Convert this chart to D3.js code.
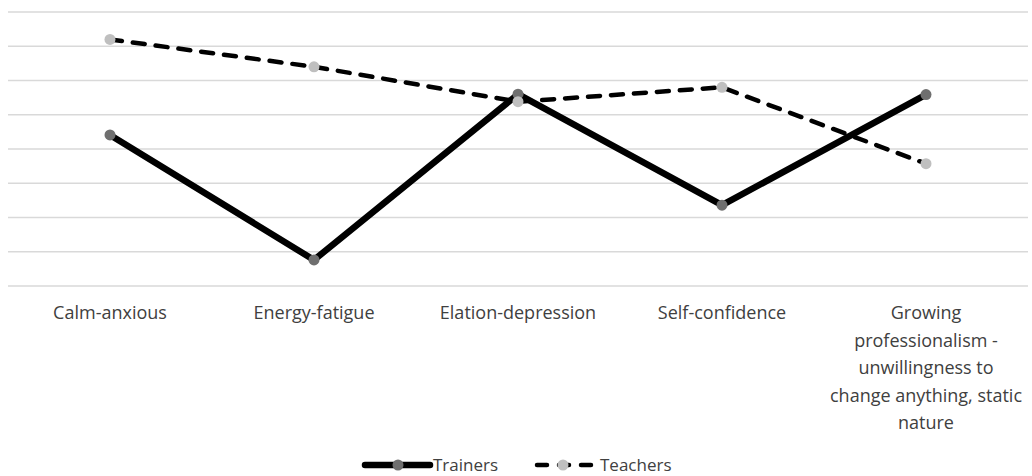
<!DOCTYPE html>
<html>
<head>
<meta charset="utf-8">
<script src="https://cdn.jsdelivr.net/npm/d3@7"></script>
<style>
  body { margin: 0; background: #fff; }
  svg { display: block; }
</style>
</head>
<body>
<div id="chart"></div>
<script>
const categories = ["Calm-anxious", "Energy-fatigue", "Elation-depression", "Self-confidence",
  "Growing professionalism - unwillingness to change anything, static nature"];
const categoryLines = [
  ["Calm-anxious"],
  ["Energy-fatigue"],
  ["Elation-depression"],
  ["Self-confidence"],
  ["Growing", "professionalism -", "unwillingness to", "change anything, static", "nature"]
];
const trainers = [4.41, 0.76, 5.60, 2.36, 5.59];
const teachers = [7.20, 6.40, 5.38, 5.80, 3.57];
const yTicks = [0, 1, 2, 3, 4, 5, 6, 7, 8];

const W = 1032, H = 476;
const plot = { left: 8, right: 1028, top: 12, bottom: 286 };
const font = "'Open Sans', sans-serif";
const textColor = "#404040";

const svg = d3.select("#chart").append("svg")
  .attr("width", W)
  .attr("height", H);

const x = d3.scaleBand()
  .domain(categories)
  .range([plot.left, plot.right]);

const y = d3.scaleLinear()
  .domain([0, 8])
  .range([plot.bottom, plot.top]);

// gridlines
svg.append("g")
  .selectAll("line")
  .data(yTicks)
  .enter()
  .append("line")
  .attr("x1", plot.left)
  .attr("x2", plot.right)
  .attr("y1", d => y(d))
  .attr("y2", d => y(d))
  .attr("stroke", "#d9d9d9")
  .attr("stroke-width", 1.3);

// category labels
const labels = svg.append("g")
  .selectAll("text")
  .data(categories)
  .enter()
  .append("text")
  .attr("x", d => x(d) + x.bandwidth() / 2)
  .attr("y", 319)
  .attr("text-anchor", "middle")
  .attr("fill", textColor)
  .style("font-family", font)
  .style("font-size", "18px");

labels.each(function(d, i) {
  d3.select(this).selectAll("tspan")
    .data(categoryLines[i])
    .enter()
    .append("tspan")
    .attr("x", x(d) + x.bandwidth() / 2)
    .attr("dy", (t, j) => j === 0 ? 0 : 27.5)
    .text(t => t);
});

const cx = (d, i) => x(categories[i]) + x.bandwidth() / 2;

const line = d3.line()
  .x(cx)
  .y(d => y(d));

svg.append("path")
  .datum(teachers)
  .attr("fill", "none")
  .attr("stroke", "#000")
  .attr("stroke-width", 4.5)
  .attr("stroke-dasharray", "12,11")
  .attr("stroke-linecap", "round")
  .attr("d", line);

svg.append("path")
  .datum(trainers)
  .attr("fill", "none")
  .attr("stroke", "#000")
  .attr("stroke-width", 6.5)
  .attr("stroke-linejoin", "round")
  .attr("d", line);

svg.append("g")
  .selectAll("circle")
  .data(trainers)
  .enter()
  .append("circle")
  .attr("cx", cx)
  .attr("cy", d => y(d))
  .attr("r", 5.5)
  .attr("fill", "#6f6f6f");

svg.append("g")
  .selectAll("circle")
  .data(teachers)
  .enter()
  .append("circle")
  .attr("cx", cx)
  .attr("cy", d => y(d))
  .attr("r", 5.5)
  .attr("fill", "#bfbfbf");

// legend
const legendY = 465;

svg.append("line")
  .attr("x1", 365).attr("x2", 430)
  .attr("y1", legendY).attr("y2", legendY)
  .attr("stroke", "#000")
  .attr("stroke-width", 6.5)
  .attr("stroke-linecap", "round");
svg.append("circle")
  .attr("cx", 398).attr("cy", legendY)
  .attr("r", 5.5)
  .attr("fill", "#6f6f6f");
svg.append("text")
  .attr("x", 433).attr("y", legendY + 6)
  .attr("fill", textColor)
  .style("font-family", font)
  .style("font-size", "17px")
  .text("Trainers");

svg.append("line")
  .attr("x1", 537).attr("x2", 596)
  .attr("y1", legendY).attr("y2", legendY)
  .attr("stroke", "#000")
  .attr("stroke-width", 4.5)
  .attr("stroke-dasharray", "10,12")
  .attr("stroke-linecap", "round");
svg.append("circle")
  .attr("cx", 563).attr("cy", legendY)
  .attr("r", 5.5)
  .attr("fill", "#bfbfbf");
svg.append("text")
  .attr("x", 600).attr("y", legendY + 6)
  .attr("fill", textColor)
  .style("font-family", font)
  .style("font-size", "17px")
  .text("Teachers");
</script>
</body>
</html>
